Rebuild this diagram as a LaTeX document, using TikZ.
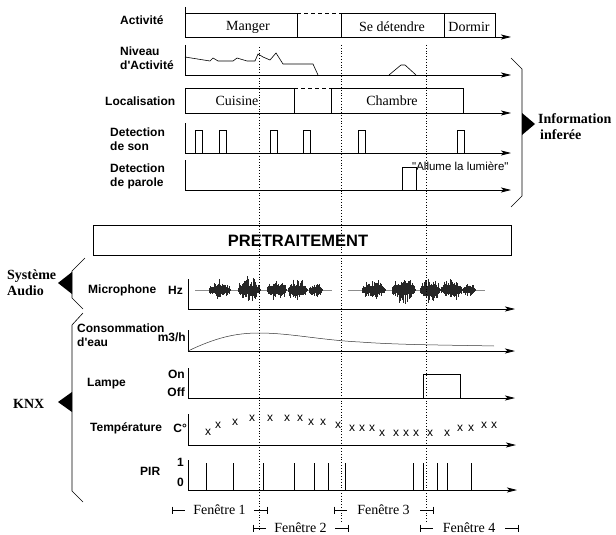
\documentclass[tikz,border=0pt]{standalone}
\usepackage{fontspec}
\setmainfont{Liberation Serif}
\setsansfont{Liberation Sans}
\usetikzlibrary{arrows.meta}

\begin{document}
\begin{tikzpicture}[x=1pt,y=-1pt,
  timeaxis/.style={line width=0.8pt,-{Stealth[length=10pt,width=5pt,inset=2.5pt]}},
  box/.style={line width=0.6pt},
  dashbox/.style={line width=0.6pt,dash pattern=on 4pt off 3pt},
  lab/.style={font=\sffamily\bfseries\fontsize{12}{14}\selectfont,inner sep=0pt,align=left},
  unit/.style={font=\sffamily\bfseries\fontsize{12}{14}\selectfont,inner sep=0pt},
  state/.style={font=\rmfamily\fontsize{14}{16}\selectfont,inner sep=0pt},
  group/.style={font=\rmfamily\bfseries\fontsize{14}{16}\selectfont,inner sep=0pt,align=left},
  win/.style={font=\rmfamily\fontsize{14}{16}\selectfont,inner sep=0pt},
  tmark/.style={font=\sffamily\fontsize{12}{12}\selectfont,inner sep=0pt},
  brace/.style={line width=0.6pt},
  timeline/.style={line width=0.7pt,dash pattern=on 0.8pt off 2pt},
  signal/.style={line width=0.6pt}
]
\useasboundingbox (0,0) rectangle (616,535);
\pgfmathsetseed{42}

% ---------------- inferred information ----------------
% Activity
\node[lab,anchor=west] (lblAct) at (120,20) {Activité};
\draw[timeaxis] (185,7) -- (185,37) -- (511,37);
\draw[box] (185,13) -- (297,13) -- (297,37);
\draw[dashbox] (297,13) -- (341,13);
\draw[box] (341,37) -- (341,13) -- (495,13) -- (495,37);
\draw[box] (444,13) -- (444,37);
\node[state] (sManger) at (248,27) {Manger};
\node[state] (sDetente) at (392,27) {Se détendre};
\node[state] (sDormir) at (469,27) {Dormir};

% Activity level
\node[lab,anchor=west] (lblNiv) at (120,58) {Niveau\\d\textquotesingle Activité};
\draw[timeaxis] (185,45) -- (185,75) -- (511,75);
\draw[signal] (185,57) -- (210,61) -- (213,58) -- (218,61) -- (233,61) -- (237,58)
  -- (247,61) -- (255,61) -- (258,54) -- (263,57) -- (270,60) -- (276,53)
  -- (283,64) -- (313,64) -- (318,75);
\draw[signal] (389,75) -- (401,65) -- (405,65) -- (416,75);

% Location
\node[lab,anchor=west] (lblLoc) at (105,101) {Localisation};
\draw[timeaxis] (185,88) -- (185,113) -- (511,113);
\draw[box] (185,88) -- (294,88) -- (294,113);
\draw[dashbox] (294,88) -- (331,88);
\draw[box] (331,113) -- (331,88) -- (463,88) -- (463,113);
\node[state] (sCuisine) at (237,101) {Cuisine};
\node[state] (sChambre) at (392,101) {Chambre};

% Sound detection
\node[lab,anchor=west] (lblSon) at (110,139) {Detection\\de son};
\draw[timeaxis] (185,123) -- (185,153) -- (511,153);
\foreach \a/\b in {195/202, 219/226, 270/277, 303/310, 358/365, 457/464}
  \draw[box] (\a,153) -- (\a,130) -- (\b,130) -- (\b,153);

% Speech detection
\node[lab,anchor=west] (lblPar) at (110,176) {Detection\\de parole};
\draw[timeaxis] (185,160) -- (185,190) -- (511,190);
\draw[box] (402,190) -- (402,167) -- (416,167) -- (416,190);
\node[font=\sffamily\fontsize{11.5}{13}\selectfont,inner sep=0pt,anchor=west] (phrase) at (412,166) {\textquotedbl Allume la lumière\textquotedbl};

% group marker
\draw[brace] (511,58) -- (522,69) -- (522,196) -- (511,207);
\fill (522,113) -- (535,124) -- (522,135) -- cycle;
\node[group,anchor=west] (gInfo) at (538,127) {Information\\\hspace{2pt}inferée};

% ---------------- preprocessing ----------------
\draw[line width=0.8pt] (93,225) rectangle (511,255);
\node[font=\sffamily\bfseries\fontsize{16.5}{18}\selectfont,inner sep=0pt] (pre) at (298,241) {PRETRAITEMENT};

% ---------------- raw data ----------------
% audio system
\node[group,anchor=west] (gAudio) at (7,283) {Système\\Audio};
\fill (58,283) -- (72,272) -- (72,294) -- cycle;
\draw[brace] (85,258) -- (72,271) -- (72,298) -- (83,309);

% Microphone
\node[lab,anchor=west] (lblMic) at (88,290) {Microphone};
\node[unit,anchor=east] (uHz) at (183,290) {Hz};
\draw[timeaxis] (188,279) -- (188,309) -- (515,309);
\draw[line width=0.4pt,black!45] (195,290) -- (332,290) (348,290) -- (485,290);
\foreach \a/\b/\amp in {209/230/10, 238/260/14, 267/286/12, 288/307/13, 309/322/8,
                        362/385/11, 392/415/14, 420/440/14, 441/462/12, 463/475/7} {
  \pgfmathsetmacro\nxt{\a+0.5}
  \foreach \x in {\a,\nxt,...,\b} {
    \pgfmathsetmacro\env{sqrt(abs(sin(180*(\x-\a)/(\b-\a))))}
    \pgfmathsetmacro\hu{\amp*(0.2+0.8*rnd*rnd)*\env+1}
    \pgfmathsetmacro\hd{\amp*(0.2+0.8*rnd*rnd)*\env+1}
    \draw[line width=0.55pt,black!85] (\x,290-\hu) -- (\x,290+\hd);
  }
}

% KNX
\node[group,anchor=west] (gKNX) at (13,404) {KNX};
\fill (58,402) -- (72,392) -- (72,412) -- cycle;
\draw[brace] (83,313) -- (72,325) -- (72,491) -- (83,502);

% Water consumption
\node[lab,anchor=west] (lblEau) at (77,335.5) {Consommation\\d\textquotesingle eau};
\node[unit,anchor=east] (uM3) at (186,337) {m3/h};
\draw[timeaxis] (188,330) -- (188,351) -- (515,351);
\draw[line width=0.5pt,black!80] (188,351) .. controls (215,338) and (235,333) .. (259,333)
  .. controls (290,333) and (320,340) .. (360,342)
  .. controls (400,345) and (450,345) .. (494,346);

% Lamp
\node[lab,anchor=west] (lblLampe) at (87,384) {Lampe};
\node[unit,anchor=east] (uOn) at (185,374) {On};
\node[unit,anchor=east] (uOff) at (185,392) {Off};
\draw[timeaxis] (188,368) -- (188,398) -- (515,398);
\draw[box] (423,398) -- (423,374) -- (460,374) -- (460,398);

% Temperature
\node[lab,anchor=west] (lblTemp) at (90,428) {Température};
\node[unit,anchor=east] (uC) at (187,428) {C°};
\draw[timeaxis] (188,414) -- (188,445) -- (516,445);
\foreach \px/\py in {208/432, 218/425, 235/422, 252/418, 270/418, 287/418, 300/418,
                     311/422, 323/422, 338/425, 352/428, 362/428, 372/428, 382/433,
                     396/433, 406/433, 416/433, 430/433, 447/433, 460/428, 471/428,
                     484/425, 494/425}
  \node[tmark] at (\px,\py) {x};

% Motion sensor
\node[lab,anchor=west] (lblPIR) at (140,471) {PIR};
\node[unit,anchor=east] (u1) at (184,462) {1};
\node[unit,anchor=east] (u0) at (184,482) {0};
\draw[timeaxis] (188,460) -- (188,490) -- (517,490);
\foreach \x in {206,233,263,294,314,328,345,413,423,437,447,471}
  \draw[box] (\x,490) -- (\x,463);

% ---------------- time windows ----------------
\foreach \a/\b/\y/\t in {172/267/510/1, 253/348/528/2, 334/433/510/3, 420/518/528/4} {
  \draw[box] (\a,\y-3.5) -- (\a,\y+3.5) (\a,\y) -- (\a+13,\y);
  \draw[box] (\b-13,\y) -- (\b,\y) (\b,\y-3.5) -- (\b,\y+3.5);
  \node[win] (w\t) at ({(\a+\b)/2},\y) {Fenêtre \t};
}

% window boundaries
\draw[timeline] (259,47) -- (259,530);
\draw[timeline] (341,45) -- (341,522);
\draw[timeline] (426,45) -- (426,522);
\end{tikzpicture}
\end{document}
